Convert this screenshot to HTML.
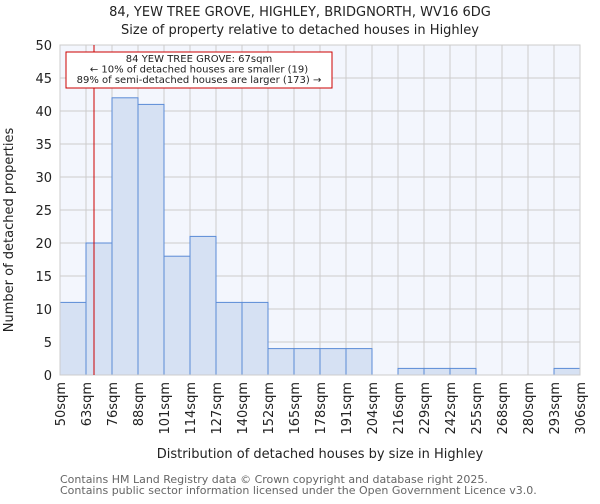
<!DOCTYPE html>
<html><head><meta charset="utf-8"><style>
body{margin:0;background:#fff;font-family:"DejaVu Sans","Liberation Sans",sans-serif;}
svg text{font-family:"DejaVu Sans","Liberation Sans",sans-serif;}
</style></head><body>
<svg id="c" width="600" height="500" viewBox="0 0 600 500">
<text x="300" y="16" text-anchor="middle" font-size="13" fill="#222">84, YEW TREE GROVE, HIGHLEY, BRIDGNORTH, WV16 6DG</text>
<text x="300" y="34" text-anchor="middle" font-size="13" fill="#222">Size of property relative to detached houses in Highley</text>
<rect x="60" y="45" width="520" height="330" fill="#f3f6fd"/>
<g id="grid"></g><g id="bars"></g><g id="axes"></g>
<text transform="translate(13,230) rotate(-90)" text-anchor="middle" font-size="13" fill="#222">Number of detached properties</text>
<text x="320" y="458" text-anchor="middle" font-size="13" fill="#222">Distribution of detached houses by size in Highley</text>
<text x="60" y="483" font-size="11" fill="#666">Contains HM Land Registry data © Crown copyright and database right 2025.</text>
<text x="60" y="494" font-size="11" fill="#666">Contains public sector information licensed under the Open Government Licence v3.0.</text>
</svg>
<script>
const tickLabels=["50sqm","63sqm","76sqm","88sqm","101sqm","114sqm","127sqm","140sqm","152sqm","165sqm","178sqm","191sqm","204sqm","216sqm","229sqm","242sqm","255sqm","268sqm","280sqm","293sqm","306sqm"];
const counts=[11,20,42,41,18,21,11,11,4,4,4,4,0,1,1,1,0,0,0,1];
const yTicks=[0,5,10,15,20,25,30,35,40,45,50];
const propertyIndex=1+4/13;
const ns="http://www.w3.org/2000/svg";
const L=60,R=580,T=45,B=375,n=counts.length;
const xs=i=>L+i*(R-L)/n, ys=v=>B-v*(B-T)/50;
function mk(t,a,p){const e=document.createElementNS(ns,t);for(const k in a)e.setAttribute(k,a[k]);document.getElementById(p).appendChild(e);return e;}
yTicks.forEach(v=>{
 const g=mk("line",{x1:L,x2:R,y1:ys(v),y2:ys(v),stroke:"#ccc","stroke-width":1},"grid");
 
 
 const t=mk("text",{x:L-8,y:ys(v)+5,"text-anchor":"end","font-size":13,fill:"#222"},"axes");t.textContent=v;
 
 
});
tickLabels.forEach((s,i)=>{
 const g=mk("line",{x1:xs(i),x2:xs(i),y1:T,y2:B,stroke:"#ccc","stroke-width":1},"grid");
 
 
 const t=mk("text",{transform:`translate(${xs(i)+5},382) rotate(-90)`,"text-anchor":"end","font-size":13,fill:"#222"},"axes");t.textContent=s;
 
 
});
counts.forEach((v,i)=>{
 if(v<=0)return;
 const b=mk("rect",{x:xs(i),y:ys(v),width:xs(1)-xs(0),height:B-ys(v),fill:"#d6e1f3",stroke:"#5b8bd6","stroke-width":1},"bars");
 
 
});
const bl=mk("rect",{x:L,y:T,width:R-L,height:B-T,fill:"none",stroke:"#ccc"},"axes");


const px=xs(propertyIndex);
const ml=mk("line",{x1:px,x2:px,y1:T,y2:B,stroke:"#c00","stroke-width":1},"axes");


const box=mk("rect",{x:66,y:52,width:266,height:36,fill:"#fff",stroke:"#c00","stroke-width":1},"axes");


["84 YEW TREE GROVE: 67sqm","← 10% of detached houses are smaller (19)","89% of semi-detached houses are larger (173) →"].forEach((s,i)=>{
 const t=mk("text",{x:199,y:62+i*10.5,"text-anchor":"middle","font-size":10,fill:"#222"},"axes");t.textContent=s;
 
 
});
</script>
</body></html>
